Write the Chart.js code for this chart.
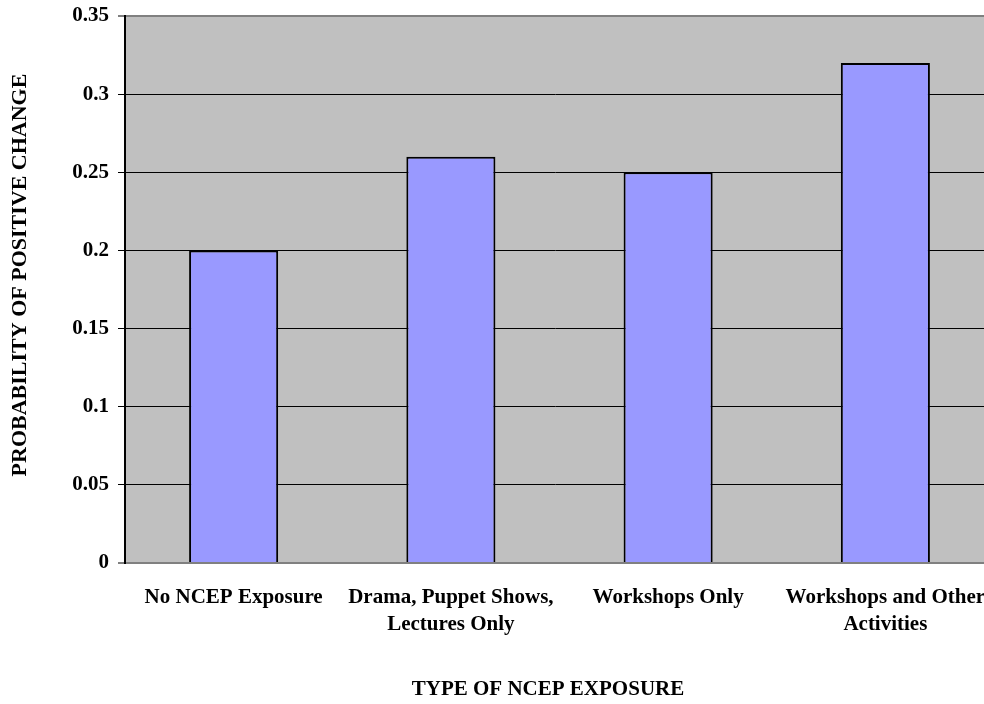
<!DOCTYPE html>
<html>
<head>
<meta charset="utf-8">
<title>Probability of positive change by type of NCEP exposure</title>
<script src="https://cdn.jsdelivr.net/npm/chart.js@4.4.1/dist/chart.umd.min.js"></script>
<style>
  html, body { margin: 0; padding: 0; background: #fff; overflow: hidden; }
  canvas { display: block; }
</style>
</head>
<body>
<canvas id="exposureChart" width="984" height="704"></canvas>
<script>
const categories = [
  ["No NCEP Exposure"],
  ["Drama, Puppet Shows,", "Lectures Only"],
  ["Workshops Only"],
  ["Workshops and Other", "Activities"],
];
const probabilities = [0.2, 0.26, 0.25, 0.32];
const yTickLabels = ["0", "0.05", "0.1", "0.15", "0.2", "0.25", "0.3", "0.35"];
const xTitle = "TYPE OF NCEP EXPOSURE";
const yTitle = "PROBABILITY OF POSITIVE CHANGE";

const serif = "'Liberation Serif', 'Times New Roman', serif";
Chart.defaults.font.family = serif;
Chart.defaults.font.weight = "bold";
Chart.defaults.color = "#000";

// grey plot area behind the grid
const plotBackground = {
  id: "plotBackground",
  beforeDraw(chart) {
    const { ctx, chartArea } = chart;
    ctx.save();
    ctx.fillStyle = "#c0c0c0";
    ctx.fillRect(chartArea.left, chartArea.top, chartArea.right - chartArea.left, chartArea.bottom - chartArea.top);
    ctx.restore();
  },
};

// the original plot runs a little past the right edge of the picture
const extendRight = {
  id: "extendRight",
  afterLayout(chart) {
    const x = chart.scales.x;
    const target = chart.width + 10;
    const delta = target - chart.chartArea.right;
    chart.chartArea.right = target;
    chart.chartArea.width += delta;
    x.right = target;
    x.width += delta;
    x.configure();
  },
};

// axis titles, placed where the original has them (slightly off-centre)
const axisTitles = {
  id: "axisTitles",
  afterDraw(chart) {
    const { ctx } = chart;
    ctx.save();
    ctx.fillStyle = "#000";
    ctx.textAlign = "center";
    ctx.textBaseline = "middle";
    ctx.font = "bold 21px " + serif;
    ctx.fillText(xTitle, 548, 690);
    ctx.translate(20, 275);
    ctx.rotate(-Math.PI / 2);
    ctx.font = "bold 22px " + serif;
    ctx.fillText(yTitle, 0, 0);
    ctx.restore();
  },
};

const isEdge = (ctx) => ctx.index === 0 || ctx.index === yTickLabels.length - 1;

new Chart(document.getElementById("exposureChart"), {
  type: "bar",
  data: {
    labels: categories,
    datasets: [
      {
        data: probabilities,
        backgroundColor: "#9999ff",
        borderColor: "#000",
        borderWidth: 2,
        barPercentage: 0.41,
        categoryPercentage: 1,
      },
    ],
  },
  options: {
    responsive: false,
    animation: false,
    layout: { padding: { top: 16, left: 0, right: 0, bottom: 0 } },
    plugins: {
      legend: { display: false },
      tooltip: { enabled: false },
    },
    scales: {
      x: {
        afterFit: (scale) => {
          scale.height = 141;
          scale.paddingLeft = 0;
          scale.paddingRight = 0;
        },
        grid: { display: false, drawTicks: false, tickLength: 0 },
        border: { display: true, color: "#808080", width: 2 },
        ticks: {
          padding: 21,
          maxRotation: 0,
          autoSkip: false,
          font: { size: 21, weight: "bold", lineHeight: 1.3 },
        },
      },
      y: {
        min: 0,
        max: 0.35,
        afterFit: (scale) => {
          scale.width = 125;
          scale.paddingTop = 0;
          scale.paddingBottom = 0;
        },
        grid: {
          color: (ctx) => (isEdge(ctx) ? "#808080" : "#000"),
          lineWidth: (ctx) => (isEdge(ctx) ? 2 : 1),
          tickColor: "#000",
          tickWidth: 1,
          tickLength: 7,
        },
        border: { display: true, color: "#000", width: 2 },
        ticks: {
          stepSize: 0.05,
          padding: 9,
          font: { size: 21, weight: "bold" },
          callback: (value, index) => yTickLabels[index],
        },
      },
    },
  },
  plugins: [plotBackground, extendRight, axisTitles],
});
</script>
</body>
</html>
